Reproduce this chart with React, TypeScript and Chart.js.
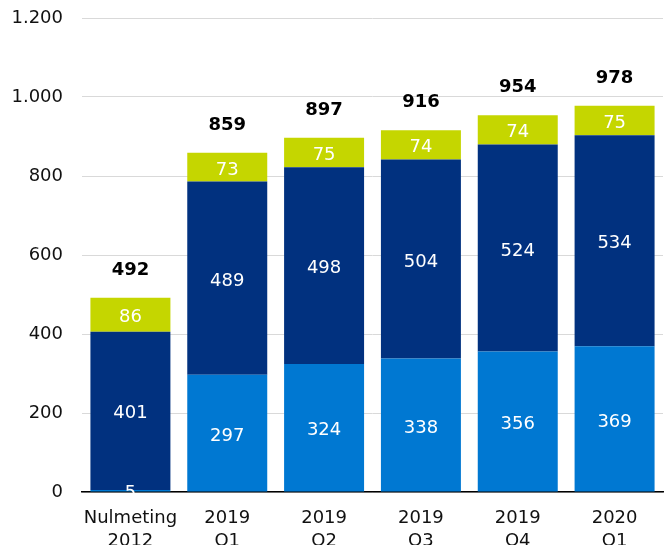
import React, { useEffect, useRef } from "react";
import { Chart, registerables } from "chart.js";

Chart.register(...registerables);

const categories: string[][] = [
  ["Nulmeting", "2012"],
  ["2019", "Q1"],
  ["2019", "Q2"],
  ["2019", "Q3"],
  ["2019", "Q4"],
  ["2020", "Q1"],
];
const lightBlueValues = [5, 297, 324, 338, 356, 369];
const navyValues = [401, 489, 498, 504, 524, 534];
const limeValues = [86, 73, 75, 74, 74, 75];
const totals = [492, 859, 897, 916, 954, 978];
const yTicks = [0, 200, 400, 600, 800, 1000, 1200];

const FONT = "'DejaVu Sans', Verdana, sans-serif";

const fmt = (v: number) => String(v).replace(/\B(?=(\d{3})+(?!\d))/g, ".");

const labelPlugin = {
  id: "valueLabels",
  afterDatasetsDraw(chart: any) {
    const ctx = chart.ctx;
    ctx.save();
    ctx.font = `18px ${FONT}`;
    ctx.fillStyle = "#ffffff";
    ctx.textAlign = "center";
    ctx.textBaseline = "middle";
    chart.data.datasets.forEach((ds: any, i: number) => {
      const meta = chart.getDatasetMeta(i);
      meta.data.forEach((el: any, j: number) => {
        const v = ds.data[j];
        ctx.fillText(String(v), el.x, (el.y + el.base) / 2 + 3);
      });
    });
    const y = chart.scales.y;
    const meta0 = chart.getDatasetMeta(0);
    ctx.font = `bold 18px ${FONT}`;
    ctx.fillStyle = "#000000";
    ctx.textBaseline = "alphabetic";
    totals.forEach((t, j) => {
      const el = meta0.data[j];
      ctx.fillText(String(t), el.x, y.getPixelForValue(t) - 23);
    });
    ctx.restore();
  },
};

const zeroPad = (axis: any) => {
  axis.paddingLeft = 0;
  axis.paddingRight = 0;
  axis.paddingTop = 0;
  axis.paddingBottom = 0;
};

export default function App() {
  const ref = useRef<HTMLCanvasElement | null>(null);
  useEffect(() => {
    document.body.style.margin = "0";
    document.body.style.overflow = "hidden";
    const chart = new Chart(ref.current as HTMLCanvasElement, {
      type: "bar",
      data: {
        labels: categories,
        datasets: [
          { label: "A", data: lightBlueValues, backgroundColor: "#0078D2", stack: "s" },
          { label: "B", data: navyValues, backgroundColor: "#01317F", stack: "s" },
          { label: "C", data: limeValues, backgroundColor: "#C5D600", stack: "s" },
        ],
      },
      options: {
        animation: false,
        responsive: false,
        maintainAspectRatio: false,
        layout: { padding: { top: 18, left: 11, right: 4, bottom: 0 } },
        plugins: { legend: { display: false }, tooltip: { enabled: false } },
        datasets: { bar: { categoryPercentage: 1, barPercentage: 0.826 } },
        scales: {
          x: {
            stacked: true,
            afterFit: (axis: any) => {
              zeroPad(axis);
              axis.height = 53;
            },
            grid: { display: false, drawTicks: false },
            border: { display: true, color: "#000000", width: 1.5 },
            ticks: {
              color: "#111111",
              font: { family: FONT, size: 18, lineHeight: 1.28 },
              padding: 15,
              maxRotation: 0,
              autoSkip: false,
            },
          },
          y: {
            stacked: true,
            min: 0,
            max: 1200,
            afterBuildTicks: (axis: any) => {
              axis.ticks = yTicks.map((v) => ({ value: v }));
            },
            afterFit: (axis: any) => {
              zeroPad(axis);
              axis.width = 71;
            },
            grid: { color: "#d9d9d9", lineWidth: 1, drawTicks: false },
            border: { display: false },
            ticks: {
              color: "#111111",
              font: { family: FONT, size: 18 },
              padding: 19,
              callback: (v: any) => fmt(Number(v)),
            },
          },
        },
      },
      plugins: [labelPlugin],
    });
    return () => chart.destroy();
  }, []);
  return (
    <div style={{ position: "fixed", left: 0, top: 0, width: 667, height: 545, overflow: "hidden" }}>
      <canvas ref={ref} width={667} height={545} />
    </div>
  );
}
